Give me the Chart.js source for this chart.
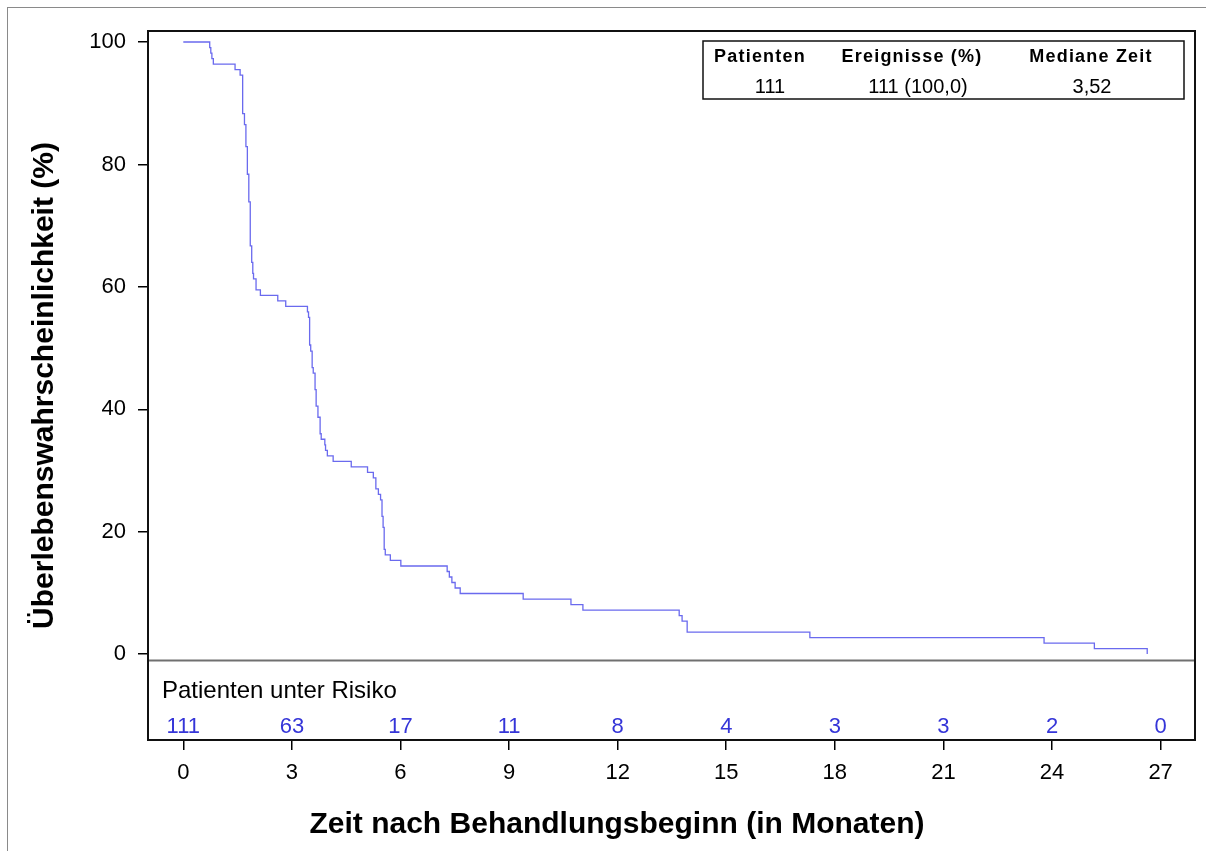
<!DOCTYPE html>
<html lang="de">
<head>
<meta charset="UTF-8">
<title>Kaplan-Meier Überlebenskurve</title>
<script src="https://cdn.jsdelivr.net/npm/chart.js"></script>
<style>
    body {
        margin: 0;
        background: #fff;
        font-family: "Liberation Sans", Arial, sans-serif;
    }
    .frame {
        position: absolute;
        left: 7px;
        top: 7px;
        width: 1400px;
        height: 1000px;
        border-top: 1.5px solid #8a8a8a;
        border-left: 1.5px solid #8a8a8a;
    }
    #km {
        position: absolute;
        left: 0;
        top: 0;
    }
</style>
</head>
<body>
<div class="frame"></div>
<canvas id="km" width="1206" height="851"></canvas>

<script>
// Zeitpunkte der Ereignisse (Monate) und Überlebenswahrscheinlichkeit danach (%)
const eventTimes = [0, 0.73, 0.76, 0.79, 0.83, 1.43, 1.57, 1.64, 1.69, 1.73, 1.77, 1.81, 1.85, 1.89, 1.92,
    1.94, 2.01, 2.13, 2.61, 2.83, 3.43, 3.46, 3.49, 3.52, 3.56, 3.59, 3.64, 3.67, 3.72, 3.78, 3.81, 3.91,
    3.93, 3.98, 4.14, 4.64, 5.09, 5.25, 5.32, 5.39, 5.45, 5.49, 5.52, 5.55, 5.58, 5.72, 6.01, 7.29, 7.35,
    7.42, 7.51, 7.65, 9.39, 10.71, 11.04, 13.70, 13.78, 13.92, 17.31, 23.78, 25.17, 26.63];
const survival = [100, 99.1, 98.2, 97.3, 96.4, 95.5, 94.6, 88.3, 86.5, 82.9, 78.4, 73.9, 66.7, 64.0, 62.2,
    61.3, 59.5, 58.6, 57.7, 56.8, 55.9, 55.0, 50.5, 49.5, 46.8, 45.9, 43.2, 40.5, 38.7, 36.0, 35.1, 34.2,
    33.3, 32.4, 31.5, 30.6, 29.7, 28.8, 27.0, 26.1, 25.2, 22.5, 20.7, 17.1, 16.2, 15.3, 14.4, 13.5, 12.6,
    11.7, 10.8, 9.9, 9.0, 8.1, 7.2, 6.3, 5.4, 3.6, 2.7, 1.8, 0.9, 0];

// Achsen
const xTicks = [0, 3, 6, 9, 12, 15, 18, 21, 24, 27];
const yTicks = [0, 20, 40, 60, 80, 100];
const xTitle = 'Zeit nach Behandlungsbeginn (in Monaten)';

// Patienten unter Risiko an den Tick-Zeitpunkten
const atRisk = [111, 63, 17, 11, 8, 4, 3, 3, 2, 0];

// Zusammenfassungstabelle
const tableHeader = ['Patienten', 'Ereignisse (%)', 'Mediane Zeit'];
const tableRow = ['111', '111 (100,0)', '3,52'];

const FONT = '"Liberation Sans", Arial, sans-serif';

const kmPoints = eventTimes.map((t, i) => ({ x: t, y: survival[i] }));

// Rahmen, Risikotabelle, x-Titel und Legendenbox
const extras = {
    id: 'extras',
    afterDraw(chart) {
        const ctx = chart.ctx;
        const a = chart.chartArea;
        const xs = chart.scales.x;
        const ys = chart.scales.y;
        ctx.save();

        // Trennlinie über der Risikotabelle
        const sepY = Math.round(ys.getPixelForValue(-1)) + 0.5;
        ctx.strokeStyle = '#707070';
        ctx.lineWidth = 2;
        ctx.beginPath();
        ctx.moveTo(a.left, sepY);
        ctx.lineTo(a.right, sepY);
        ctx.stroke();

        // Plotrahmen
        ctx.strokeStyle = '#111';
        ctx.lineWidth = 2;
        ctx.strokeRect(a.left, a.top, a.right - a.left, a.bottom - a.top);

        // Patienten unter Risiko
        ctx.fillStyle = '#000';
        ctx.font = '24px ' + FONT;
        ctx.textAlign = 'left';
        ctx.textBaseline = 'alphabetic';
        ctx.fillText('Patienten unter Risiko', a.left + 14, 698);

        ctx.fillStyle = '#3535d8';
        ctx.font = '22px ' + FONT;
        ctx.textAlign = 'center';
        atRisk.forEach((n, i) => {
            ctx.fillText(String(n), xs.getPixelForValue(xTicks[i]), 733);
        });

        // x-Achsentitel
        ctx.fillStyle = '#000';
        ctx.font = 'bold 30px ' + FONT;
        ctx.fillText(xTitle, 617, 833);

        // Legendenbox oben rechts
        ctx.strokeStyle = '#111';
        ctx.lineWidth = 1.5;
        ctx.strokeRect(703, 41, 1184 - 703, 99 - 41);
        const colX = [760, 912, 1091];
        const rowX = [770, 918, 1092];
        ctx.font = 'bold 18px ' + FONT;
        ctx.letterSpacing = '1.2px';
        tableHeader.forEach((s, i) => ctx.fillText(s, colX[i], 62));
        ctx.letterSpacing = '0px';
        ctx.font = '20px ' + FONT;
        tableRow.forEach((s, i) => ctx.fillText(s, rowX[i], 93));

        ctx.restore();
    }
};

new Chart(document.getElementById('km'), {
    type: 'line',
    data: {
        datasets: [{
            data: kmPoints,
            stepped: 'before',
            borderColor: '#6a6aee',
            borderWidth: 1.3,
            pointRadius: 0,
            fill: false
        }]
    },
    options: {
        responsive: false,
        animation: false,
        devicePixelRatio: 1,
        layout: { padding: { top: 31, right: 11, left: 0, bottom: 0 } },
        plugins: {
            legend: { display: false },
            tooltip: { enabled: false }
        },
        scales: {
            x: {
                type: 'linear',
                min: -0.975,
                max: 27.95,
                afterBuildTicks: s => { s.ticks = xTicks.map(v => ({ value: v })); },
                afterFit: s => { s.height = 111; },
                grid: { drawOnChartArea: false, drawTicks: true, tickLength: 10, color: '#000', lineWidth: 1.5 },
                border: { display: false },
                ticks: { color: '#000', font: { size: 22, family: FONT }, padding: 10, maxRotation: 0 }
            },
            y: {
                type: 'linear',
                min: -14.03,
                max: 101.8,
                afterBuildTicks: s => { s.ticks = yTicks.map(v => ({ value: v })); },
                afterFit: s => { s.width = 148; },
                grid: { drawOnChartArea: false, drawTicks: true, tickLength: 10, color: '#000', lineWidth: 1.5 },
                border: { display: false },
                ticks: { color: '#000', font: { size: 22, family: FONT }, padding: 12 },
                title: {
                    display: true,
                    text: 'Überlebenswahrscheinlichkeit (%)',
                    color: '#000',
                    font: { size: 30, weight: 'bold', family: FONT },
                    padding: { top: 27, bottom: 0 }
                }
            }
        }
    },
    plugins: [extras]
});
</script>
</body>
</html>
